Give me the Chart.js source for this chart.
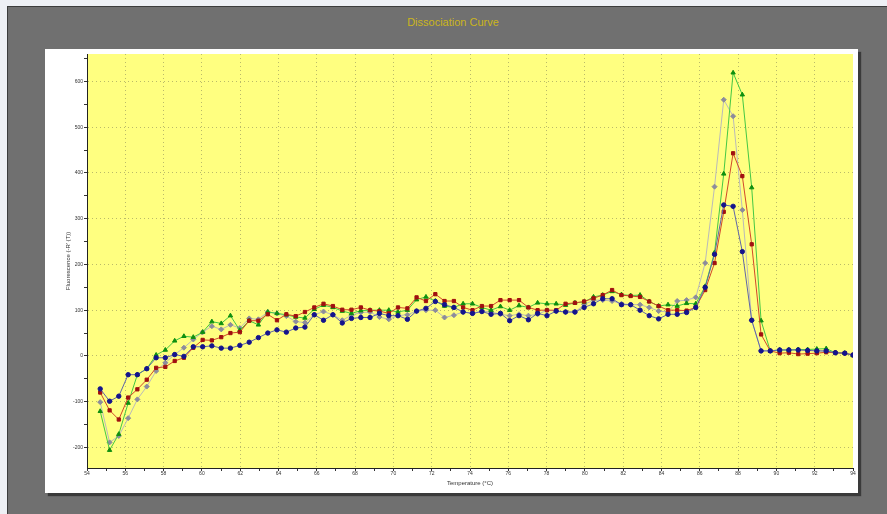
<!DOCTYPE html>
<html>
<head>
<meta charset="utf-8">
<script src="https://cdn.jsdelivr.net/npm/chart.js@4.4.1/dist/chart.umd.min.js"></script>
<style>
  html, body { margin: 0; padding: 0; }
  body { width: 887px; height: 514px; background: #eef0f5; position: relative; overflow: hidden; font-family: "Liberation Sans", Arial, sans-serif; }
  #frame { position: absolute; left: 7px; top: 6px; width: 880px; height: 508px; background: #707070; border-top: 1px solid #3c3c3c; border-left: 1px solid #3c3c3c; }
  #title { position: absolute; left: 0; top: 16px; width: 906px; text-align: center; color: #cbb51c; font-size: 11px; }
  #panel { position: absolute; left: 45px; top: 49px; width: 813px; height: 444px; background: #fff; box-shadow: 3px 3px 1px #3a3a3a; }
  #panel canvas { display: block; }
</style>
</head>
<body>
<div id="frame"></div>
<div id="title">Dissociation Curve</div>
<div id="panel"><canvas id="dissChart" width="813" height="444"></canvas></div>
<script>
// temperature of each reading (°C)
const temps = [54.69, 55.18, 55.66, 56.15, 56.63, 57.12, 57.61, 58.09, 58.58, 59.06,
  59.55, 60.04, 60.52, 61.01, 61.49, 61.98, 62.47, 62.95, 63.44, 63.92,
  64.41, 64.90, 65.38, 65.87, 66.35, 66.84, 67.33, 67.81, 68.30, 68.78,
  69.27, 69.76, 70.24, 70.73, 71.21, 71.70, 72.19, 72.67, 73.16, 73.64,
  74.13, 74.62, 75.10, 75.59, 76.07, 76.56, 77.05, 77.53, 78.02, 78.50,
  78.99, 79.48, 79.96, 80.45, 80.93, 81.42, 81.91, 82.39, 82.88, 83.36,
  83.85, 84.34, 84.82, 85.31, 85.79, 86.28, 86.77, 87.25, 87.74, 88.22,
  88.71, 89.20, 89.68, 90.17, 90.65, 91.14, 91.63, 92.11, 92.60, 93.08,
  93.57, 94.00];

const blueVals = [-72, -99, -88, -41, -41, -28, -4, -4, 3, -1,
  20, 20, 22, 17, 17, 23, 30, 40, 50, 57,
  52, 61, 63, 90, 78, 90, 72, 82, 84, 84,
  93, 88, 88, 80, 98, 104, 119, 112, 106, 96,
  93, 97, 91, 93, 77, 88, 79, 93, 88, 98,
  96, 96, 106, 114, 125, 125, 112, 112, 100, 88,
  81, 91, 91, 95, 106, 150, 222, 330, 327, 228,
  78, 11, 11, 13, 13, 13, 12, 11, 11, 7,
  6, 2];

const redVals = [-80, -119, -139, -91, -73, -52, -26, -24, -11, -4,
  18, 35, 34, 41, 50, 52, 77, 77, 91, 78,
  91, 87, 96, 106, 114, 109, 101, 101, 106, 100,
  98, 93, 106, 104, 128, 120, 135, 120, 120, 106,
  100, 109, 109, 122, 122, 122, 106, 100, 100, 100,
  114, 116, 119, 126, 133, 144, 133, 131, 129, 119,
  109, 100, 100, 99, 106, 144, 203, 315, 443, 393,
  244, 47, 11, 6, 7, 4, 5, 6, 8, 7,
  6, 2];

const greenVals = [-121, -206, -171, -103, -41, -28, 2, 13, 33, 43,
  41, 52, 75, 71, 88, 56, 77, 68, 96, 93,
  90, 85, 83, 102, 111, 106, 98, 93, 99, 100,
  100, 100, 96, 100, 123, 129, 120, 109, 106, 114,
  114, 106, 100, 108, 100, 110, 106, 116, 114, 114,
  111, 116, 118, 129, 133, 141, 134, 132, 133, 119,
  109, 112, 109, 115, 114, 152, 226, 398, 619, 571,
  368, 77, 11, 13, 13, 14, 14, 15, 16, 7,
  6, 1];

const grayVals = [-101, -189, -175, -136, -95, -67, -33, -15, 3, 18,
  36, 52, 65, 58, 68, 61, 82, 80, 96, 93,
  87, 75, 73, 90, 97, 90, 78, 89, 95, 96,
  85, 80, 88, 90, 98, 100, 100, 84, 89, 96,
  93, 98, 96, 91, 88, 91, 88, 91, 100, 98,
  96, 96, 112, 122, 122, 120, 114, 112, 112, 106,
  98, 96, 120, 122, 128, 203, 370, 560, 524, 319,
  78, 11, 11, 13, 13, 14, 13, 11, 10, 7,
  6, 2];

const xMin = 54, xMax = 94;
const yMin = -245, yMax = 660;

function pairs(vals) {
  return vals.map((v, i) => ({ x: temps[i], y: v }));
}

const plotBackground = {
  id: 'plotBackground',
  beforeDraw(chart) {
    const { ctx, chartArea } = chart;
    ctx.save();
    ctx.fillStyle = '#ffff80';
    ctx.fillRect(chartArea.left, chartArea.top, chartArea.width, chartArea.height);
    ctx.restore();
  }
};

const gridDots = 'rgba(140,140,90,0.6)';
const font = { family: '"Liberation Sans", Arial, sans-serif', size: 5 };

const ctx = document.getElementById('dissChart');
new Chart(ctx, {
  type: 'line',
  data: {
    datasets: [
      {
        label: 'A1',
        data: pairs(blueVals),
        borderColor: '#6066a8',
        backgroundColor: '#14148c',
        pointBorderColor: '#14148c',
        pointStyle: 'circle',
        pointRadius: 2.2,
        borderWidth: 1
      },
      {
        label: 'A2',
        data: pairs(redVals),
        borderColor: '#d2482a',
        backgroundColor: '#a01010',
        pointBorderColor: '#a01010',
        pointStyle: 'rect',
        pointRadius: 2.3,
        borderWidth: 1
      },
      {
        label: 'A3',
        data: pairs(greenVals),
        borderColor: '#44c844',
        backgroundColor: '#0f8f0f',
        pointBorderColor: '#0f8f0f',
        pointStyle: 'triangle',
        pointRadius: 2.5,
        borderWidth: 1
      },
      {
        label: 'A4',
        data: pairs(grayVals),
        borderColor: '#bababa',
        backgroundColor: '#8c8c9c',
        pointBorderColor: '#8c8c9c',
        pointStyle: 'rectRot',
        pointRadius: 2.5,
        borderWidth: 1
      }
    ]
  },
  options: {
    responsive: false,
    animation: false,
    layout: { padding: { left: 20, top: 3, right: 2, bottom: 6 } },
    plugins: {
      legend: { display: false },
      tooltip: { enabled: false }
    },
    elements: { line: { tension: 0 } },
    scales: {
      x: {
        type: 'linear',
        min: xMin,
        max: xMax,
        afterFit(scale) { scale.height = 19; },
        ticks: {
          stepSize: 1,
          autoSkip: false,
          maxRotation: 0,
          padding: 0,
          color: '#333',
          font: font,
          callback: v => (v % 2 === 0 ? v : '')
        },
        grid: {
          color: c => (c.tick && c.tick.value % 2 === 0 && c.tick.value !== xMax ? gridDots : 'transparent'),
          tickColor: '#333',
          tickLength: 3,
          lineWidth: 1
        },
        border: { color: '#222', width: 1, dash: [1, 3] },
        title: {
          display: true,
          text: 'Temperature (°C)',
          color: '#333',
          font: { family: '"Liberation Sans", Arial, sans-serif', size: 6 },
          padding: 0
        }
      },
      y: {
        min: yMin,
        max: yMax,
        afterFit(scale) { scale.width = 22; },
        ticks: {
          stepSize: 50,
          includeBounds: false,
          autoSkip: false,
          padding: 1,
          color: '#333',
          font: font,
          callback: v => (v % 100 === 0 ? v : '')
        },
        grid: {
          color: c => (c.tick && c.tick.value % 100 === 0 ? gridDots : 'transparent'),
          tickColor: '#333',
          tickLength: 3,
          lineWidth: 1
        },
        border: { color: '#222', width: 1, dash: [1, 3] },
        title: {
          display: true,
          text: "Fluorescence (-R' (T))",
          color: '#333',
          font: { family: '"Liberation Sans", Arial, sans-serif', size: 6 },
          padding: 0
        }
      }
    }
  },
  plugins: [plotBackground]
});
</script>
</body>
</html>
